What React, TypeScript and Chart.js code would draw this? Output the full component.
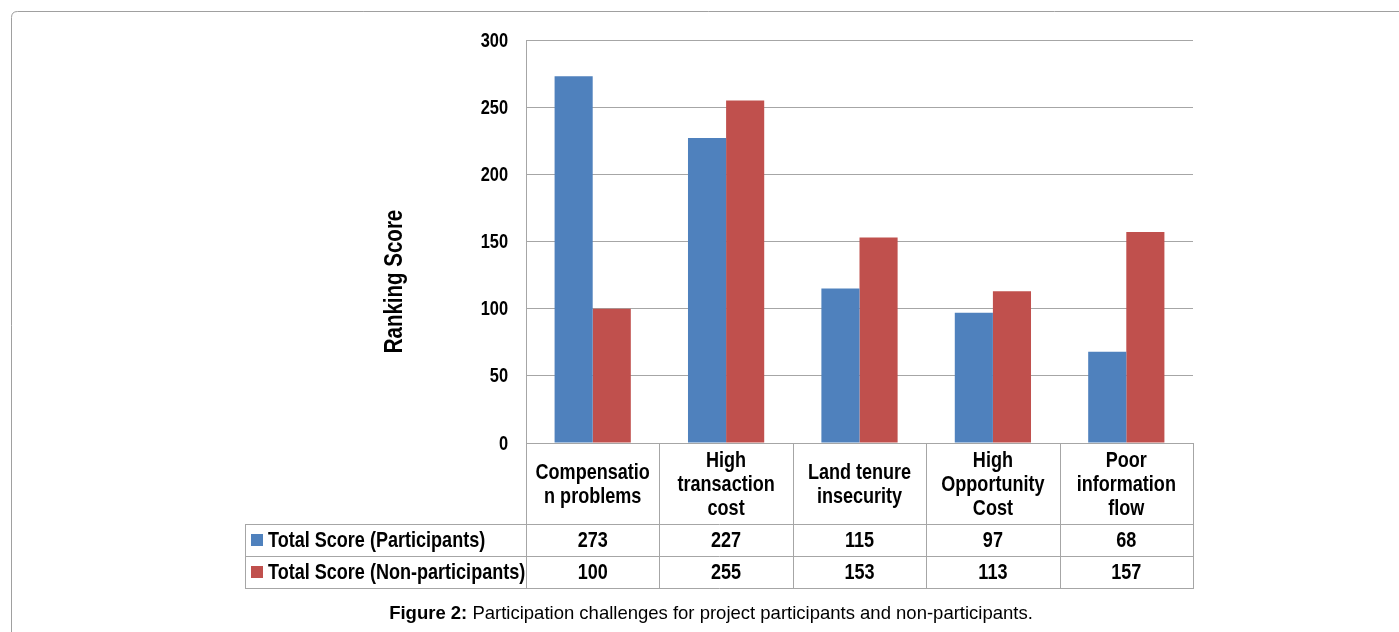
import React, { useEffect, useRef } from "react";
import { Chart, registerables } from "chart.js";

Chart.register(...registerables);

// ---- data ----
const categories: string[][] = [
  ["Compensatio", "n problems"],
  ["High", "transaction", "cost"],
  ["Land tenure", "insecurity"],
  ["High", "Opportunity", "Cost"],
  ["Poor", "information", "flow"],
];
const participants: number[] = [273, 227, 115, 97, 68];
const nonParticipants: number[] = [100, 255, 153, 113, 157];
const seriesLabels: string[] = ["Total Score (Participants)", "Total Score (Non-participants)"];
const seriesColors: string[] = ["#4F81BD", "#C0504D"];
const yMin = 0;
const yMax = 300;
const yStep = 50;
const yTitle = "Ranking Score";
const captionBold = "Figure 2:";
const captionRest = " Participation challenges for project participants and non-participants.";

// ---- styles ----
const SANS = '"Liberation Sans", Arial, sans-serif';
const NARROW_SCALE = 0.82;
const LINE = "#a6a6a6";

function narrowText(ctx: CanvasRenderingContext2D, text: string, x: number, y: number, size: number, align: CanvasTextAlign) {
  ctx.save();
  ctx.translate(x, y);
  ctx.scale(NARROW_SCALE, 1);
  ctx.font = `bold ${size}px ${SANS}`;
  ctx.textAlign = align;
  ctx.textBaseline = "middle";
  ctx.fillText(text, 0, 0);
  ctx.restore();
}

const tablePlugin = {
  id: "tablePlugin",
  beforeDraw(chart: any) {
    const ctx = chart.ctx;
    ctx.save();
    ctx.fillStyle = "#ffffff";
    ctx.fillRect(0, 0, chart.width, chart.height);
    ctx.strokeStyle = "#a0a0a0";
    ctx.lineWidth = 1;
    const x = 11.5, y = 11.5, r = 6;
    ctx.beginPath();
    ctx.moveTo(x, chart.height + 20);
    ctx.lineTo(x, y + r);
    ctx.quadraticCurveTo(x, y, x + r, y);
    ctx.lineTo(chart.width + 20, y);
    ctx.stroke();
    ctx.restore();
  },
  afterDraw(chart: any) {
    const ctx = chart.ctx;
    const area = chart.chartArea;
    const xs = chart.scales.x;
    const ys = chart.scales.y;
    const n = categories.length;
    const cw = area.width / n;
    const headerTop = Math.round(area.bottom);
    const headerBottom = headerTop + 81;
    const rowH = 32;
    const tableLeft = Math.round(area.left) - 281;
    const tableRight = Math.round(area.right);
    const rowsBottom = headerBottom + rowH * 2;

    ctx.save();
    ctx.fillStyle = "#000000";

    // y tick labels
    ys.ticks.forEach((t: any) => {
      narrowText(ctx, String(t.value), area.left - 18, ys.getPixelForValue(t.value) + 1, 20, "right");
    });

    ctx.strokeStyle = LINE;
    ctx.lineWidth = 1;
    ctx.beginPath();
    for (let i = 0; i <= n; i++) {
      const bx = Math.round(area.left + i * cw) + 0.5;
      ctx.moveTo(bx, headerTop);
      ctx.lineTo(bx, rowsBottom + 0.5);
    }
    ctx.moveTo(tableLeft + 0.5, headerBottom);
    ctx.lineTo(tableLeft + 0.5, rowsBottom + 0.5);
    for (let j = 0; j <= 2; j++) {
      const hy = headerBottom + j * rowH + 0.5;
      ctx.moveTo(tableLeft, hy);
      ctx.lineTo(tableRight + 1, hy);
    }
    ctx.stroke();

    // header text
    const headerMid = (headerTop + headerBottom) / 2;
    const lh = 24;
    categories.forEach((lines, i) => {
      const cx = xs.getPixelForValue(i);
      const start = headerMid - ((lines.length - 1) * lh) / 2;
      lines.forEach((t, k) => narrowText(ctx, t, cx, start + k * lh + 1, 22, "center"));
    });

    // value rows
    const rows = [participants, nonParticipants];
    rows.forEach((vals, r) => {
      const cy = headerBottom + r * rowH + rowH / 2 + 1;
      vals.forEach((v, i) => {
        narrowText(ctx, String(v), xs.getPixelForValue(i), cy, 22, "center");
      });
      ctx.fillStyle = seriesColors[r];
      ctx.fillRect(tableLeft + 6, cy - 7, 12, 12);
      ctx.fillStyle = "#000000";
      narrowText(ctx, seriesLabels[r], tableLeft + 23, cy, 22, "left");
    });

    // y axis title
    ctx.save();
    ctx.translate(area.left - 131, (area.top + area.bottom) / 2 + 40);
    ctx.rotate(-Math.PI / 2);
    narrowText(ctx, yTitle, 0, 0, 25, "center");
    ctx.restore();

    // caption
    ctx.textBaseline = "middle";
    ctx.textAlign = "left";
    const capSize = 18.5;
    ctx.font = `bold ${capSize}px ${SANS}`;
    const wb = ctx.measureText(captionBold).width;
    ctx.font = `${capSize}px ${SANS}`;
    const wr = ctx.measureText(captionRest).width;
    const capX = 711 - (wb + wr) / 2;
    const capY = 614;
    ctx.font = `bold ${capSize}px ${SANS}`;
    ctx.fillText(captionBold, capX, capY);
    ctx.font = `${capSize}px ${SANS}`;
    ctx.fillText(captionRest, capX + wb, capY);

    ctx.restore();
  },
};

export default function App() {
  const canvasRef = useRef<HTMLCanvasElement | null>(null);

  useEffect(() => {
    if (!canvasRef.current) return;
    const chart = new Chart(canvasRef.current, {
      type: "bar",
      data: {
        labels: categories.map((c) => c.join(" ")),
        datasets: [
          {
            label: seriesLabels[0],
            data: participants,
            backgroundColor: seriesColors[0],
            borderWidth: 0,
            categoryPercentage: 0.5714,
            barPercentage: 1,
          },
          {
            label: seriesLabels[1],
            data: nonParticipants,
            backgroundColor: seriesColors[1],
            borderWidth: 0,
            categoryPercentage: 0.5714,
            barPercentage: 1,
          },
        ],
      },
      options: {
        responsive: false,
        animation: false,
        devicePixelRatio: 1,
        layout: { padding: { left: 360, right: 206, top: 40, bottom: 189 } },
        plugins: {
          legend: { display: false },
          tooltip: { enabled: false },
          title: { display: false },
        },
        scales: {
          x: {
            display: false,
            grid: { display: false },
          },
          y: {
            min: yMin,
            max: yMax,
            ticks: { stepSize: yStep, display: false },
            grid: { color: LINE, lineWidth: 1, drawTicks: false },
            border: { display: true, color: LINE, width: 1 },
            afterFit: (s: any) => {
              s.width = 166;
            },
          },
        },
      },
      plugins: [tablePlugin],
    });
    return () => chart.destroy();
  }, []);

  return (
    <div style={{ position: "absolute", left: 0, top: 0, width: 1399, height: 632, background: "#fff" }}>
      <canvas ref={canvasRef} width={1399} height={632} style={{ display: "block" }} />
    </div>
  );
}
